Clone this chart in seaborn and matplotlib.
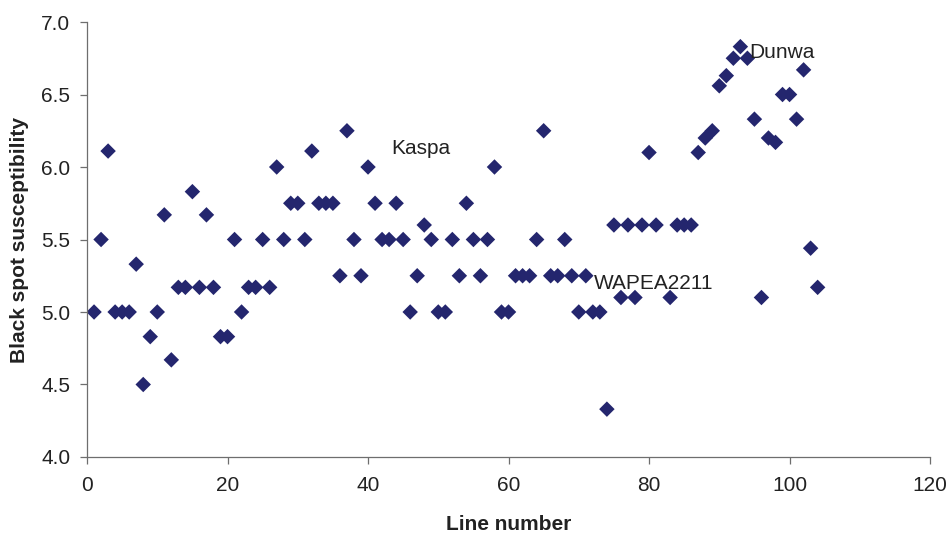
import pandas as pd
import matplotlib
matplotlib.use('Agg')
import matplotlib.pyplot as plt
import seaborn as sns

# Line numbers (line 82 has no score)
line_number = list(range(1, 82)) + list(range(83, 105))

# Black spot susceptibility score for each line
susceptibility = [
    5.0, 5.5, 6.11, 5.0, 5.0, 5.0, 5.33, 4.5, 4.83, 5.0,
    5.67, 4.67, 5.17, 5.17, 5.83, 5.17, 5.67, 5.17, 4.83, 4.83,
    5.5, 5.0, 5.17, 5.17, 5.5, 5.17, 6.0, 5.5, 5.75, 5.75,
    5.5, 6.11, 5.75, 5.75, 5.75, 5.25, 6.25, 5.5, 5.25, 6.0,
    5.75, 5.5, 5.5, 5.75, 5.5, 5.0, 5.25, 5.6, 5.5, 5.0,
    5.0, 5.5, 5.25, 5.75, 5.5, 5.25, 5.5, 6.0, 5.0, 5.0,
    5.25, 5.25, 5.25, 5.5, 6.25, 5.25, 5.25, 5.5, 5.25, 5.0,
    5.25, 5.0, 5.0, 4.33, 5.6, 5.1, 5.6, 5.1, 5.6, 6.1,
    5.6,
    5.1, 5.6, 5.6, 5.6, 6.1, 6.2, 6.25, 6.56, 6.63, 6.75,
    6.83, 6.75, 6.33, 5.1, 6.2, 6.17, 6.5, 6.5, 6.33, 6.67,
    5.44, 5.17,
]

# Named lines written on the chart
label_names = ['Kaspa', 'Dunwa', 'WAPEA2211']
label_x = [47.5, 98.9, 80.6]
label_y = [6.13, 6.79, 5.20]

df = pd.DataFrame({'line': line_number, 'score': susceptibility})

sns.set_style('ticks')
plt.rcParams['font.family'] = ['Liberation Sans', 'DejaVu Sans']

text_col = '#222222'
axis_col = '#6e6e6e'

fig = plt.figure(figsize=(9.5, 5.33), dpi=100)
ax = fig.add_axes([0.0916, 0.1426, 0.8874, 0.8161])

sns.scatterplot(data=df, x='line', y='score', marker='D', s=62,
                color='#24266e', edgecolor='none', ax=ax, legend=False)

for name, lx, ly in zip(label_names, label_x, label_y):
    ax.text(lx, ly, name, ha='center', va='center', fontsize=15, color=text_col)

ax.set_xlim(0, 120)
ax.set_ylim(4.0, 7.0)
ax.set_xticks(range(0, 121, 20))
ax.set_yticks([4.0, 4.5, 5.0, 5.5, 6.0, 6.5, 7.0])
ax.set_yticklabels([f'{v:.1f}' for v in [4.0, 4.5, 5.0, 5.5, 6.0, 6.5, 7.0]])

ax.set_xlabel('Line number', fontsize=15, fontweight='bold', color=text_col, labelpad=14)
ax.set_ylabel('Black spot susceptibility', fontsize=15, fontweight='bold', color=text_col, labelpad=9)

sns.despine(ax=ax)
for side in ['left', 'bottom']:
    ax.spines[side].set_color(axis_col)
    ax.spines[side].set_linewidth(0.9)
ax.tick_params(axis='both', direction='out', length=5, width=0.9,
               color=axis_col, labelsize=15, labelcolor=text_col)
ax.tick_params(axis='x', pad=9)
ax.tick_params(axis='y', pad=7)

fig.savefig('out.png', dpi=100)
